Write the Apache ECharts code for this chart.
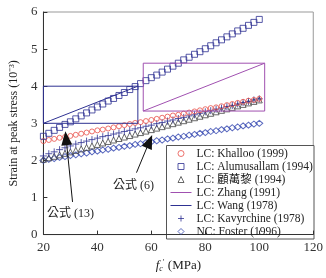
<!DOCTYPE html>
<html>
<head>
<meta charset="utf-8">
<script src="https://cdn.jsdelivr.net/npm/echarts@6/dist/echarts.min.js"></script>
<style>
  html, body { margin: 0; padding: 0; background: #fff; }
  #chart { width: 326px; height: 278px; }
</style>
</head>
<body>
<div id="chart"></div>
<script>
// f'c values (MPa) where the marker series are sampled
const fcValues = [20, 22, 24, 26, 28, 30, 32, 34, 36, 38, 40, 42, 44, 46, 48, 50, 52, 54, 56, 58, 60,
  62, 64, 66, 68, 70, 72, 74, 76, 78, 80, 82, 84, 86, 88, 90, 92, 94, 96, 98, 100];

const khalloo = [2.52, 2.55, 2.58, 2.61, 2.63, 2.66, 2.69, 2.72, 2.75, 2.78, 2.81, 2.83, 2.86, 2.89, 2.92, 2.95, 2.98, 3.01, 3.03, 3.06, 3.09,
  3.12, 3.15, 3.18, 3.21, 3.23, 3.26, 3.29, 3.32, 3.35, 3.38, 3.41, 3.43, 3.46, 3.49, 3.52, 3.55, 3.58, 3.61, 3.63, 3.66];
const alumusallam = [2.65, 2.73, 2.81, 2.89, 2.97, 3.04, 3.12, 3.20, 3.28, 3.36, 3.44, 3.52, 3.60, 3.67, 3.75, 3.83, 3.91, 3.99, 4.07, 4.15, 4.23,
  4.30, 4.38, 4.46, 4.54, 4.62, 4.71, 4.78, 4.86, 4.93, 5.01, 5.09, 5.17, 5.25, 5.33, 5.41, 5.49, 5.56, 5.64, 5.72, 5.80];
const guWanli = [2.03, 2.07, 2.11, 2.15, 2.19, 2.23, 2.27, 2.31, 2.35, 2.39, 2.43, 2.47, 2.51, 2.55, 2.59, 2.63, 2.67, 2.71, 2.75, 2.79, 2.83,
  2.87, 2.91, 2.95, 2.99, 3.03, 3.07, 3.11, 3.15, 3.19, 3.23, 3.27, 3.31, 3.35, 3.39, 3.43, 3.47, 3.51, 3.55, 3.59, 3.63];
const kavyrchine = [2.12, 2.18, 2.23, 2.29, 2.34, 2.39, 2.44, 2.48, 2.52, 2.56, 2.60, 2.64, 2.67, 2.71, 2.74, 2.78, 2.81, 2.85, 2.88, 2.92, 2.95,
  2.99, 3.02, 3.06, 3.09, 3.13, 3.16, 3.20, 3.23, 3.27, 3.31, 3.34, 3.38, 3.41, 3.45, 3.48, 3.52, 3.56, 3.59, 3.63, 3.66];
const foster = [2.00, 2.03, 2.05, 2.08, 2.10, 2.13, 2.15, 2.18, 2.20, 2.23, 2.25, 2.28, 2.30, 2.33, 2.35, 2.38, 2.40, 2.43, 2.45, 2.48, 2.50,
  2.53, 2.55, 2.58, 2.60, 2.63, 2.65, 2.68, 2.70, 2.73, 2.75, 2.78, 2.80, 2.83, 2.85, 2.88, 2.90, 2.93, 2.95, 2.98, 3.00];

// the two line series are drawn as a closed box with a diagonal, as in the figure
const zhangX = [57, 57, 102, 102, 57, 102];
const zhangY = [3.33, 4.62, 4.62, 3.33, 3.33, 4.62];
const wangX = [20, 20, 55, 55, 20, 55];
const wangY = [3.0, 4.0, 4.0, 3.0, 3.0, 4.0];

// annotation arrows: [tail, head]
const eq13Arrow = [[30.8, 0.88], [28.4, 2.6]];
const eq6Arrow = [[54.5, 1.67], [59.3, 2.51]];

const xTicks = [20, 40, 60, 80, 100, 120];
const yTicks = [0, 1, 2, 3, 4, 5, 6];

const serif = 'Liberation Serif, Times New Roman, Noto Sans CJK TC, serif';
const navy = '#2e3192';
const red = '#e8504a';
const purple = '#a050b0';
const grey = '#444';
const blue = '#3447b0';

const ICON_RECT = 'path://M0,0H10V10H0Z';
const ICON_TRI = 'path://M5,0L10,10H0Z';
const ICON_DIAMOND = 'path://M5,0L10,5L5,10L0,5Z';
const ICON_PLUS = 'path://M5,0V10M0,5H10';

const pairs = (xs, ys) => xs.map((x, i) => [x, ys[i]]);

function markerSeries(name, ys, symbol, size, color) {
  return {
    name: name,
    type: 'scatter',
    data: pairs(fcValues, ys),
    symbol: symbol,
    symbolSize: size,
    itemStyle: { color: 'none', borderColor: color, borderWidth: 1 },
    emphasis: { disabled: true }
  };
}

function lineSeries(name, xs, ys, color) {
  return {
    name: name,
    type: 'line',
    data: pairs(xs, ys),
    symbol: 'none',
    lineStyle: { color: color, width: 1 },
    itemStyle: { color: color },
    emphasis: { disabled: true }
  };
}

const hollow = (color) => ({ color: 'none', borderColor: color, borderWidth: 1 });
const noSymbol = { color: 'rgba(0,0,0,0)', borderColor: 'rgba(0,0,0,0)', borderWidth: 0 };

const chart = echarts.init(document.getElementById('chart'));

chart.setOption({
  animation: false,
  grid: { left: 33, right: 12, top: 12, bottom: 39, show: true, borderColor: '#999', borderWidth: 1 },
  xAxis: {
    type: 'value',
    min: xTicks[0],
    max: xTicks[xTicks.length - 1],
    interval: 20,
    name: '{f|f}{s|c}{p|′} (MPa)',
    nameLocation: 'middle',
    nameGap: 23,
    nameTextStyle: {
      fontFamily: serif, fontSize: 13, color: '#222',
      rich: {
        f: { fontFamily: serif, fontStyle: 'italic', fontSize: 13, color: '#222' },
        s: { fontFamily: serif, fontStyle: 'italic', fontSize: 8, color: '#222', padding: [7, 0, 0, 0] },
        p: { fontFamily: serif, fontSize: 8, color: '#222', padding: [0, 0, 6, 0] }
      }
    },
    axisLine: { lineStyle: { color: '#333', width: 1 } },
    axisTick: { inside: true, length: 4, lineStyle: { color: '#333' } },
    axisLabel: { fontFamily: serif, fontSize: 13, color: '#333', margin: 6 },
    splitLine: { show: false }
  },
  yAxis: {
    type: 'value',
    min: yTicks[0],
    max: yTicks[yTicks.length - 1],
    interval: 1,
    name: 'Strain at peak stress (10⁻³)',
    nameLocation: 'middle',
    nameGap: 21,
    nameTextStyle: { fontFamily: serif, fontSize: 12, color: '#222' },
    axisLine: { show: true, lineStyle: { color: '#333', width: 1 } },
    axisTick: { show: true, inside: true, length: 4, lineStyle: { color: '#333' } },
    axisLabel: { fontFamily: serif, fontSize: 13, color: '#333', margin: 6 },
    splitLine: { show: false }
  },
  legend: {
    orient: 'vertical',
    left: 170,
    top: 147,
    padding: 0,
    itemGap: 0,
    itemWidth: 21,
    itemHeight: 6,
    selectedMode: false,
    symbolKeepAspect: true,
    textStyle: { fontFamily: serif, fontSize: 11.5, color: '#222', lineHeight: 13 },
    data: [
      { name: 'LC: Khalloo (1999)', icon: 'circle', itemStyle: hollow(red) },
      { name: 'LC: Alumusallam (1994)', icon: ICON_RECT, itemStyle: hollow(navy) },
      { name: 'LC: 顧萬黎 (1994)', icon: ICON_TRI, itemStyle: hollow(grey) },
      { name: 'LC: Zhang (1991)', itemStyle: noSymbol, lineStyle: { color: purple, width: 1 } },
      { name: 'LC: Wang (1978)', itemStyle: noSymbol, lineStyle: { color: navy, width: 1 } },
      { name: 'LC: Kavyrchine (1978)', icon: ICON_PLUS, itemStyle: hollow(navy) },
      { name: 'NC: Foster (1996)', icon: ICON_DIAMOND, itemStyle: hollow(blue) }
    ]
  },
  graphic: [
    { type: 'rect', shape: { x: 166.5, y: 145.5, width: 147.5, height: 93.5 }, style: { fill: '#fff', stroke: '#555', lineWidth: 1 }, z: 0, silent: true },
    { type: 'text', left: 47, top: 208, style: { text: '公式 (13)', font: '12px ' + serif, fill: '#222' } },
    { type: 'text', left: 113, top: 180, style: { text: '公式 (6)', font: '12px ' + serif, fill: '#222' } }
  ],
  series: [
    lineSeries('LC: Zhang (1991)', zhangX, zhangY, purple),
    lineSeries('LC: Wang (1978)', wangX, wangY, navy),
    markerSeries('NC: Foster (1996)', foster, 'diamond', [7, 6], blue),
    markerSeries('LC: 顧萬黎 (1994)', guWanli, 'triangle', 6, grey),
    markerSeries('LC: Kavyrchine (1978)', kavyrchine, ICON_PLUS, 7, navy),
    markerSeries('LC: Khalloo (1999)', khalloo, 'circle', 5, red),
    markerSeries('LC: Alumusallam (1994)', alumusallam, 'rect', 6, navy),
    {
      name: 'arrows',
      type: 'scatter',
      data: [],
      markLine: {
        silent: true,
        symbol: ['none', 'triangle'],
        symbolSize: [11, 14],
        label: { show: false },
        lineStyle: { color: '#111', width: 1, type: 'solid' },
        itemStyle: { color: '#111' },
        data: [
          [{ coord: eq13Arrow[0] }, { coord: eq13Arrow[1] }],
          [{ coord: eq6Arrow[0] }, { coord: eq6Arrow[1] }]
        ]
      }
    }
  ]
});
</script>
</body>
</html>
